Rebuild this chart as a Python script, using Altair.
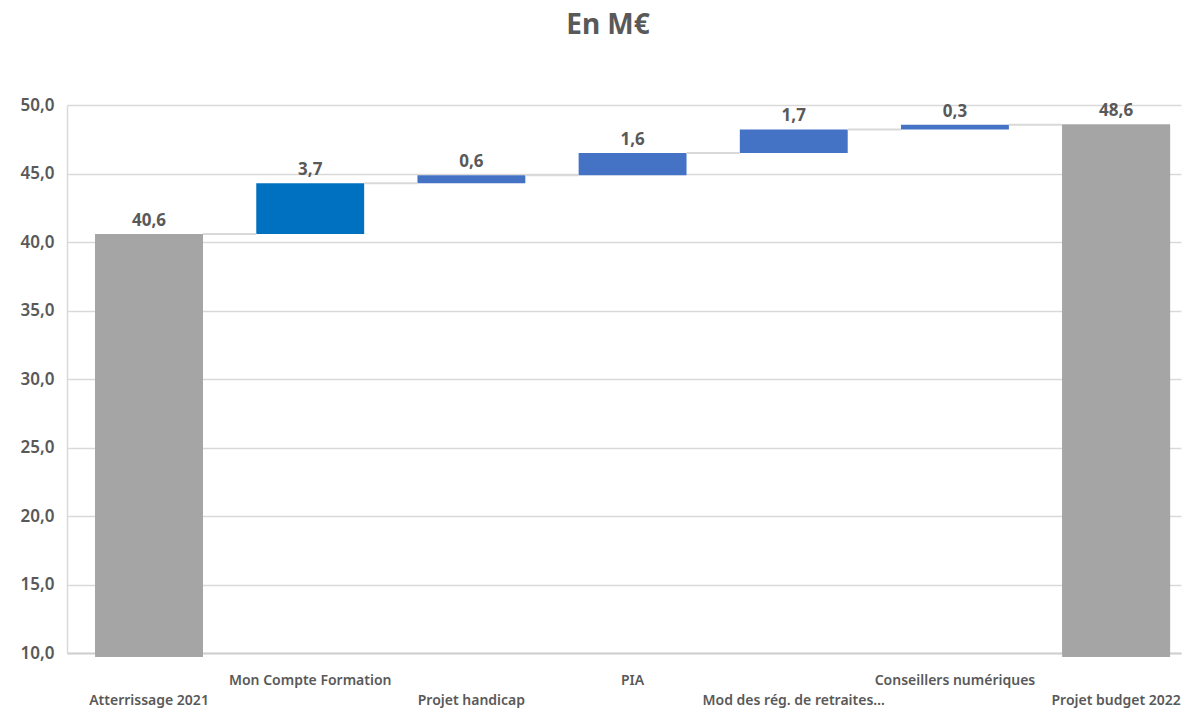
import altair as alt
import pandas as pd

# ---- data ----
categories = ["Atterrissage 2021", "Mon Compte Formation", "Projet handicap", "PIA",
              "Mod des rég. de retraites…", "Conseillers numériques", "Projet budget 2022"]
kinds = ["total", "delta", "delta", "delta", "delta", "delta", "total"]
values = [40.58, 3.71, 0.58, 1.62, 1.73, 0.34, 48.58]
y_ticks = [10, 15, 20, 25, 30, 35, 40, 45, 50]
title_text = "En M€"

# ---- style ----
bar_colors = ["#A5A5A5", "#0070C0", "#4472C4", "#4472C4", "#4472C4", "#4472C4", "#A5A5A5"]
TEXT = "#595959"
GRID = "#D9D9D9"
FONT = "Noto Sans"

rows = []
cum = 0.0
for i, (c, k, v) in enumerate(zip(categories, kinds, values)):
    if k == "total":
        start, end = 0.0, v
        cum = v
    else:
        start, end = cum, cum + v
        cum = end
    rows.append(dict(
        cat=c, start=start, end=end, top=max(start, end),
        label=f"{v:.1f}".replace(".", ","),
        nxt=categories[i + 1] if i + 1 < len(categories) else None,
        level=cum,
    ))
df = pd.DataFrame(rows)

row1 = categories[1::2]
row1_test = "indexof([" + ",".join("'" + c + "'" for c in row1) + "], datum.value) >= 0"

x_scale = alt.Scale(domain=categories, paddingInner=0.3306, paddingOuter=0.121, align=0.72)
y_scale = alt.Scale(domain=[10, 50], nice=False, zero=False, clamp=True)

x_axis = alt.Axis(
    title=None, labelAngle=0, ticks=False, grid=False,
    domainColor="#D0D0D0", domainWidth=2,
    labelColor=TEXT, labelFont=FONT, labelFontSize=14, labelFontWeight=600,
    labelLimit=400,
    labelPadding={"condition": {"test": row1_test, "value": 20}, "value": 40},
)
y_axis = alt.Axis(
    title=None, values=y_ticks, ticks=False,
    domain=True, domainColor=GRID, domainWidth=1.5,
    grid=True, gridColor=GRID, gridWidth=1.5,
    labelColor=TEXT, labelFont=FONT, labelFontSize=17, labelFontWeight=600,
    labelPadding=13,
    labelExpr="replace(format(datum.value, '.1f'), '.', ',')",
)

base = alt.Chart(df)

bars = base.mark_bar().encode(
    x=alt.X("cat:N", scale=x_scale, axis=x_axis),
    y=alt.Y("end:Q", scale=y_scale, axis=y_axis),
    y2="start:Q",
    color=alt.Color("cat:N", scale=alt.Scale(domain=categories, range=bar_colors), legend=None),
)

connectors = base.transform_filter("datum.nxt != null").mark_rule(
    color=GRID, strokeWidth=2
).encode(
    x=alt.X("cat:N", scale=x_scale, bandPosition=1, title=None),
    x2=alt.X2("nxt", bandPosition=0),
    y=alt.Y("level:Q", scale=y_scale, title=None),
)

totals_overhang = base.transform_filter("datum.start == 0").mark_bar(y2Offset=4, color="#A5A5A5").encode(
    x=alt.X("cat:N", scale=x_scale, title=None),
    y=alt.Y("end:Q", scale=y_scale, title=None),
    y2="start:Q",
)

labels = base.mark_text(
    baseline="bottom", dy=-4, fontSize=17, fontWeight="bold", color=TEXT, font=FONT
).encode(
    x=alt.X("cat:N", scale=x_scale, title=None),
    y=alt.Y("top:Q", scale=y_scale, title=None),
    text="label:N",
)

chart = alt.layer(bars, connectors, totals_overhang, labels).properties(
    width=1114, height=548,
    autosize=alt.AutoSizeParams(type="none"),
    padding={"left": 67, "top": 105, "right": 1, "bottom": 55},
    title=alt.TitleParams(title_text, fontSize=28, fontWeight="bold", color=TEXT, font=FONT,
                          anchor="middle", dx=-16, offset=56),
).configure_view(stroke=None)

chart.save("out.html", embed_options={"renderer": "svg", "actions": False})
